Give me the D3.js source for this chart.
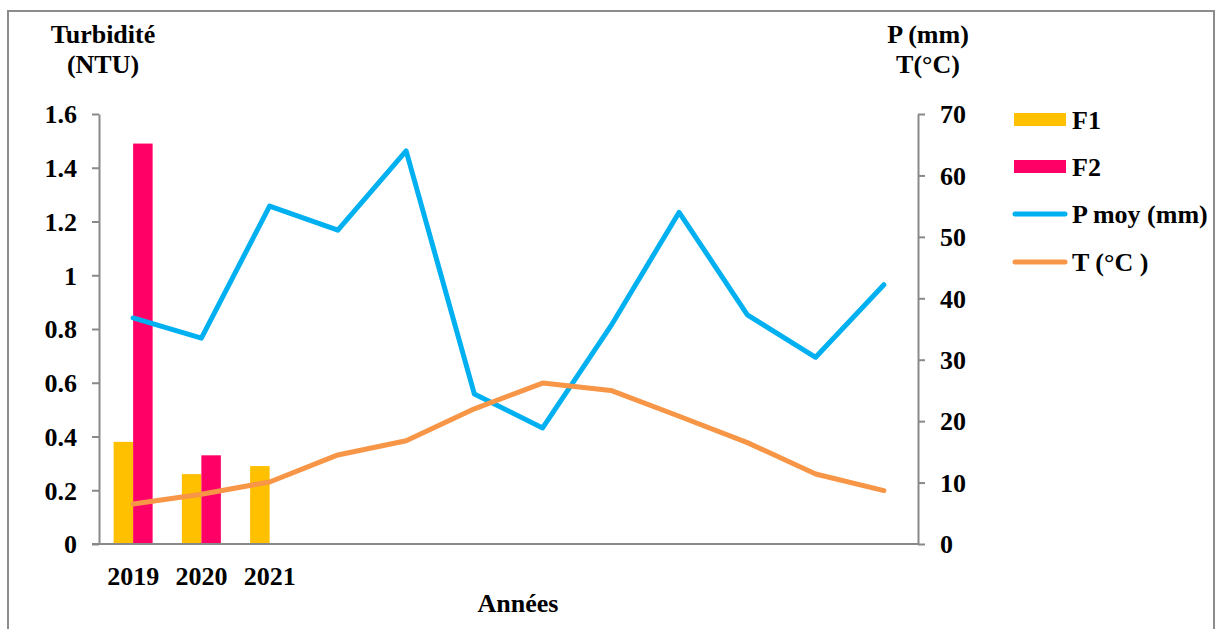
<!DOCTYPE html>
<html><head><meta charset="utf-8">
<script src="https://cdn.jsdelivr.net/npm/d3@7"></script>
<style>
body{margin:0;background:#fff}
svg{display:block}
</style>
</head><body>
<svg id="c" width="1218" height="629"></svg>
<script>
// ---- data ----
const xLabels = ["2019","2020","2021","","","","","","","","",""];
const f1 = [0.38, 0.26, 0.29];
const f2 = [1.49, 0.33, null];
const pMoy = [36.8, 33.5, 55.0, 51.1, 64.0, 24.4, 18.9, 35.5, 54.0, 37.3, 30.4, 42.2];
const temp = [6.5, 8.1, 10.1, 14.5, 16.8, 22.0, 26.2, 25.0, 20.8, 16.5, 11.4, 8.7];
const leftTicks = [0, 0.2, 0.4, 0.6, 0.8, 1.0, 1.2, 1.4, 1.6];
const rightTicks = [0, 10, 20, 30, 40, 50, 60, 70];
const seriesNames = ["F1", "F2", "P moy (mm)", "T (°C )"];
const colors = {F1:"#FFC000", F2:"#FF0066", P:"#00B0F0", T:"#F79646"};

const FONT = "'Liberation Serif', 'Times New Roman', serif";
const svg = d3.select("#c");
const X0 = 99, X1 = 918, Y0 = 544, Y1 = 114;
const axisColor = "#898989";

// frame
svg.append("rect").attr("x", 8).attr("y", 11).attr("width", 1206).attr("height", 640)
  .attr("fill", "none").attr("stroke", "#8c8c8c").attr("stroke-width", 2);

const x = d3.scaleBand().domain(d3.range(xLabels.length)).range([X0, X1]);
const bw = 19.5;
const xs = d3.scaleBand().domain(["F1","F2"]).range([x.bandwidth()/2 - bw, x.bandwidth()/2 + bw]);
const yL = d3.scaleLinear().domain([0, 1.6]).range([Y0, Y1]);
const yR = d3.scaleLinear().domain([0, 70]).range([Y0, Y1]);

// bars
const barData = [];
f1.forEach((v,i) => { if (v != null) barData.push({s:"F1", i, v}); });
f2.forEach((v,i) => { if (v != null) barData.push({s:"F2", i, v}); });
svg.append("g").selectAll("rect").data(barData).join("rect")
  .attr("x", d => x(d.i) + xs(d.s))
  .attr("width", xs.bandwidth())
  .attr("y", d => yL(d.v))
  .attr("height", d => yL(0) - yL(d.v))
  .attr("fill", d => colors[d.s]);

// axes
function styleAxis(g){
  g.attr("font-family", FONT).attr("font-size", 26);
  g.selectAll("path").attr("stroke", axisColor).attr("stroke-width", 2);
  g.selectAll("line").attr("stroke", axisColor).attr("stroke-width", 2);
}
const gL = svg.append("g").attr("transform", `translate(${X0},0)`)
  .call(d3.axisLeft(yL).tickValues(leftTicks).tickSize(7).tickSizeOuter(0).tickPadding(15)
    .tickFormat(d => String(+d.toFixed(1))));
styleAxis(gL);
gL.selectAll("text").attr("dy", "0.34em");

const gR = svg.append("g").attr("transform", `translate(${X1},0)`)
  .call(d3.axisRight(yR).tickValues(rightTicks).tickSize(7).tickSizeOuter(0).tickPadding(15));
styleAxis(gR);
gR.selectAll("text").attr("dy", "0.34em");

const gB = svg.append("g").attr("transform", `translate(0,${Y0})`)
  .call(d3.axisBottom(x).tickSize(0).tickSizeOuter(0).tickPadding(22.5).tickFormat(i => xLabels[i]));
styleAxis(gB);
gB.select(".domain").attr("d", `M${X0 - 7},0H${X1}`);

// lines
const line = yScale => d3.line().x((d,i) => x(i) + x.bandwidth()/2).y(d => yScale(d));
svg.append("path").datum(pMoy).attr("d", line(yR)).attr("fill", "none")
  .attr("stroke", colors.P).attr("stroke-width", 5).attr("stroke-linejoin", "round").attr("stroke-linecap", "round");
svg.append("path").datum(temp).attr("d", line(yR)).attr("fill", "none")
  .attr("stroke", colors.T).attr("stroke-width", 5).attr("stroke-linejoin", "round").attr("stroke-linecap", "round");

// titles
svg.append("text").attr("x", 103).attr("y", 43).attr("text-anchor", "middle").text("Turbidité");
svg.append("text").attr("x", 103).attr("y", 73).attr("text-anchor", "middle").text("(NTU)");
svg.append("text").attr("x", 928).attr("y", 43).attr("text-anchor", "middle").text("P (mm)");
svg.append("text").attr("x", 928).attr("y", 73).attr("text-anchor", "middle").text("T(°C)");
svg.append("text").attr("x", 518).attr("y", 612).attr("text-anchor", "middle").text("Années");

// legend
const lg = svg.append("g");
const legY = [120, 167, 214, 262];
const legKeys = ["F1","F2","P","T"];
legKeys.forEach((k, j) => {
  if (j < 2) {
    lg.append("rect").attr("x", 1014).attr("y", legY[j] - 7).attr("width", 52).attr("height", 13).attr("fill", colors[k]);
  } else {
    lg.append("line").attr("x1", 1015).attr("x2", 1065).attr("y1", legY[j]).attr("y2", legY[j])
      .attr("stroke", colors[k]).attr("stroke-width", 5).attr("stroke-linecap", "round");
  }
  lg.append("text").attr("x", 1072).attr("y", legY[j]).attr("dy", "0.34em").text(seriesNames[j]);
});

// all text: bold serif
svg.selectAll("text")
  .style("font-family", FONT)
  .style("font-weight", "bold")
  .style("font-size", "26px")
  .style("fill", "#000");
</script>
</body></html>
